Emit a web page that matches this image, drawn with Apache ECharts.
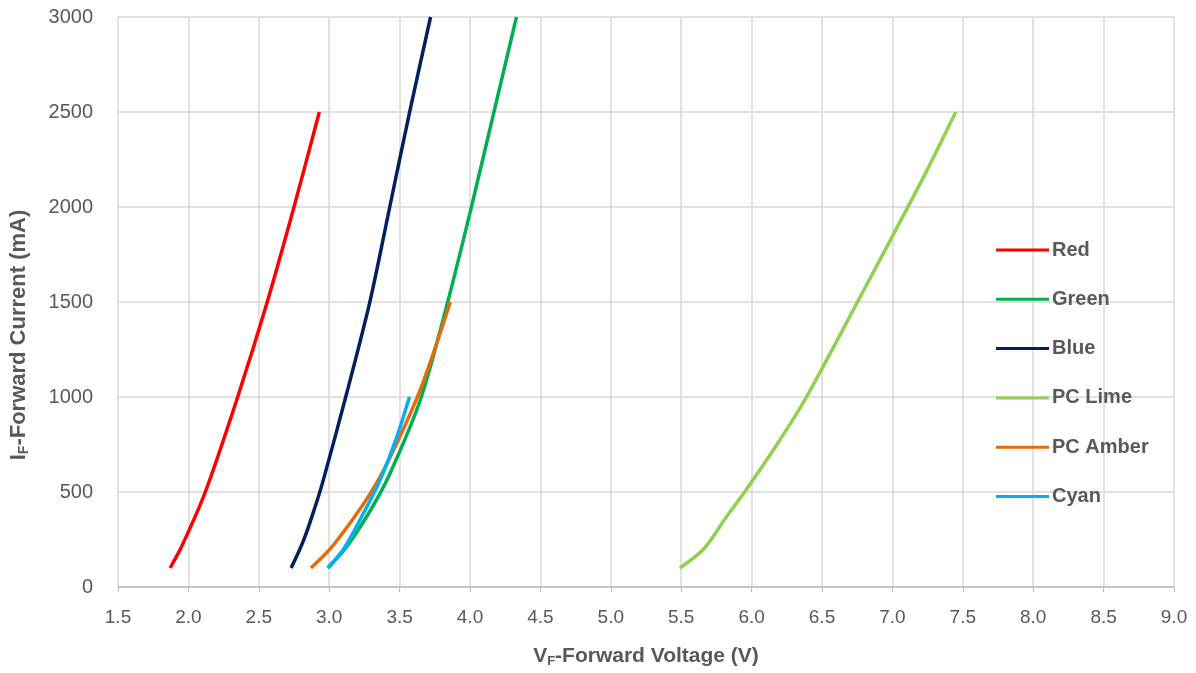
<!DOCTYPE html>
<html><head><meta charset="utf-8">
<script src="https://cdn.jsdelivr.net/npm/echarts@6/dist/echarts.min.js"></script>
<style>html,body{margin:0;padding:0;background:#fff}#c{width:1196px;height:673px}</style>
</head><body><div id="c"></div>
<script>
const seriesNames = ['Red','Green','Blue','PC Lime','PC Amber','Cyan'];
const seriesColors = ['#FF0000','#00B050','#002060','#92D050','#E46C0A','#00B0F0'];
const red = [[1.87,100],[1.95,210],[2.12,500],[2.35,1000],[2.56,1500],[2.75,2000],[2.93,2500]];
const green = [[2.99,100],[3.12,208],[3.29,400],[3.43,595],[3.645,980],[3.84,1495],[4.01,2000],[4.17,2500],[4.33,3000]];
const blue = [[2.73,100],[2.815,240],[2.886,390],[2.957,560],[3.135,1050],[3.29,1505],[3.43,2000],[3.57,2495],[3.72,3000]];
const pcLime = [[5.49,100],[5.66,200],[5.82,368],[5.95,500],[6.18,750],[6.39,1000],[6.77,1525],[7.01,1860],[7.24,2185],[7.45,2500]];
const pcAmber = [[2.87,100],[3.005,199],[3.16,349],[3.29,490],[3.41,648],[3.645,1035],[3.86,1500]];
const cyan = [[2.99,100],[3.11,208],[3.24,384],[3.36,560],[3.48,790],[3.57,1000]];
const allData = [red, green, blue, pcLime, pcAmber, cyan];
const xTicks = {min:1.5, max:9.0, interval:0.5};
const yTicks = {min:0, max:3000, interval:500};

const chart = echarts.init(document.getElementById('c'));
const font = 'Liberation Sans, Arial, sans-serif';
const rich = (size, sub) => ({
  a:{fontFamily:font, fontWeight:'bold', fontSize:size, color:'#595959'},
  s:{fontFamily:font, fontWeight:'bold', fontSize:sub, color:'#595959', verticalAlign:'bottom', padding:[10,0,0,0]}
});
chart.setOption({
  animation:false,
  backgroundColor:'#fff',
  grid:{left:118, right:22, top:17, bottom:86, outerBoundsMode:'none', containLabel:false},
  legend:{
    orient:'vertical', left:991, top:235, itemGap:29.3,
    itemWidth:53, itemHeight:3, icon:'rect',
    textStyle:{fontFamily:font, fontWeight:'bold', fontSize:20, color:'#595959', padding:[0,0,0,-2]},
    data: seriesNames
  },
  xAxis:{
    type:'value', min:xTicks.min, max:xTicks.max, interval:xTicks.interval,
    axisLine:{show:true, lineStyle:{color:'#bfbfbf', width:1.5}},
    axisTick:{show:true, length:5, lineStyle:{color:'#bfbfbf'}},
    axisLabel:{color:'#595959', fontSize:19, fontFamily:font, margin:21, formatter:v=>v.toFixed(1)},
    splitLine:{show:true, lineStyle:{color:'#d9d9d9', width:1.5}},
    name:'{a|V}{s|F}{a|-Forward Voltage (V)}', nameLocation:'middle', nameGap:58,
    nameTextStyle:{rich:rich(21,13)}
  },
  yAxis:{
    type:'value', min:yTicks.min, max:yTicks.max, interval:yTicks.interval,
    axisLine:{show:false}, axisTick:{show:false},
    axisLabel:{color:'#595959', fontSize:20, fontFamily:font, margin:25, formatter:v=>String(v)},
    splitLine:{show:true, lineStyle:{color:'#d9d9d9', width:1.5}},
    name:'{a|I}{s|F}{a|-Forward Current (mA)}', nameLocation:'middle', nameGap:87, nameRotate:90,
    nameTextStyle:{rich:rich(22,14), padding:[0,66,0,0]}
  },
  series: seriesNames.map((n,i)=>({
    name:n, type:'line', data:allData[i], smooth:0.3, showSymbol:false, clip:true,
    lineStyle:{color:seriesColors[i], width:3.5}, itemStyle:{color:seriesColors[i]}
  }))
});
</script></body></html>
